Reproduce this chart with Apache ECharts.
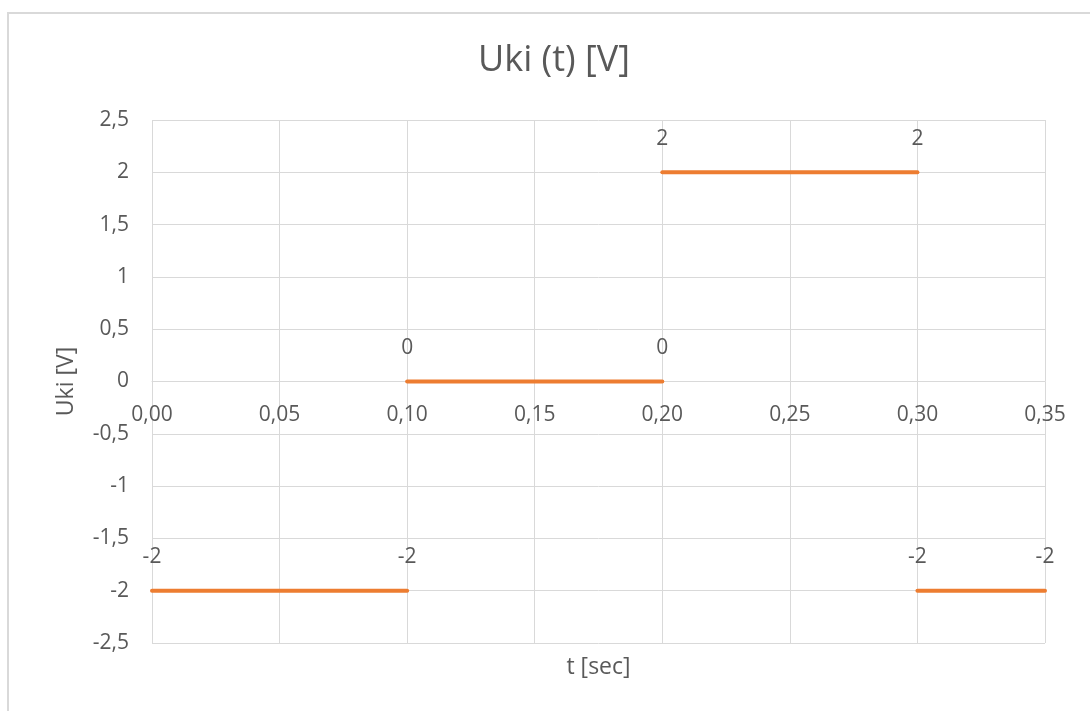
<!DOCTYPE html>
<html>
<head>
<meta charset="utf-8">
<script src="https://cdn.jsdelivr.net/npm/echarts@6/dist/echarts.min.js"></script>
<style>
  html, body { margin: 0; padding: 0; background: #ffffff; }
  #frame { position: absolute; left: 7px; top: 12px; width: 1100px; height: 720px;
           border-top: 2px solid #d9d9d9; border-left: 2px solid #d9d9d9; }
  #chart { position: absolute; left: 0; top: 0; width: 1090px; height: 711px; }
</style>
</head>
<body>
<div id="frame"></div>
<div id="chart"></div>
<script>
// Square wave Uki(t): each segment holds a constant level between two instants
const segStart = [0.00, 0.10, 0.20, 0.30];
const segEnd   = [0.10, 0.20, 0.30, 0.35];
const segLevel = [-2, 0, 2, -2];

const xTicks = { min: 0, max: 0.35, interval: 0.05 };
const yTicks = { min: -2.5, max: 2.5, interval: 0.5 };

const FONT = 'Open Sans';
const TEXT = '#595959';
const GRID = '#d9d9d9';
const LINE = '#ed7d31';

const comma = v => String(v).replace('.', ',');

const gridBox = { left: 152, right: 45, top: 120, bottom: 68 };
const plotHeight = 711 - gridBox.top - gridBox.bottom;
// the time axis crosses the voltage axis at 0 V
const zeroShift = plotHeight * (0 - yTicks.min) / (yTicks.max - yTicks.min);

const series = segStart.map((t0, i) => ({
  type: 'line',
  data: [[t0, segLevel[i]], [segEnd[i], segLevel[i]]],
  symbol: 'circle',
  symbolSize: 2,
  itemStyle: { color: LINE },
  lineStyle: { color: LINE, width: 4, cap: 'round' },
  label: {
    show: true,
    position: 'top',
    distance: 22,
    color: TEXT,
    fontFamily: FONT,
    fontSize: 21,
    formatter: p => comma(p.value[1])
  },
  emphasis: { disabled: true },
  silent: true,
  animation: false
}));

const chart = echarts.init(document.getElementById('chart'));
chart.setOption({
  backgroundColor: 'transparent',
  title: {
    text: 'Uki (t) [V]',
    left: 473,
    top: 38,
    textStyle: { fontFamily: FONT, fontSize: 36, fontWeight: 'normal', color: TEXT }
  },
  grid: Object.assign({ containLabel: false, outerBoundsMode: 'none' }, gridBox),
  xAxis: {
    type: 'value',
    min: xTicks.min, max: xTicks.max, interval: xTicks.interval,
    position: 'bottom',
    offset: -zeroShift,
    name: 't [sec]',
    nameLocation: 'middle',
    nameGap: 274,
    nameTextStyle: { fontFamily: FONT, fontSize: 23, color: TEXT },
    axisLine: { show: true, onZero: false, lineStyle: { color: GRID, width: 1 } },
    axisTick: { show: false },
    splitLine: { show: true, lineStyle: { color: GRID, width: 1 } },
    axisLabel: {
      margin: 23,
      color: TEXT, fontFamily: FONT, fontSize: 21,
      formatter: v => v.toFixed(2).replace('.', ',')
    }
  },
  yAxis: {
    type: 'value',
    min: yTicks.min, max: yTicks.max, interval: yTicks.interval,
    name: 'Uki [V]',
    nameLocation: 'middle',
    nameGap: 74,
    nameRotate: 90,
    nameTextStyle: { fontFamily: FONT, fontSize: 23, color: TEXT },
    axisLine: { show: false, onZero: false },
    axisTick: { show: false },
    splitLine: { show: true, lineStyle: { color: GRID, width: 1 } },
    axisLabel: {
      margin: 23,
      color: TEXT, fontFamily: FONT, fontSize: 21,
      formatter: v => comma(v)
    }
  },
  series: series
});
</script>
</body>
</html>
